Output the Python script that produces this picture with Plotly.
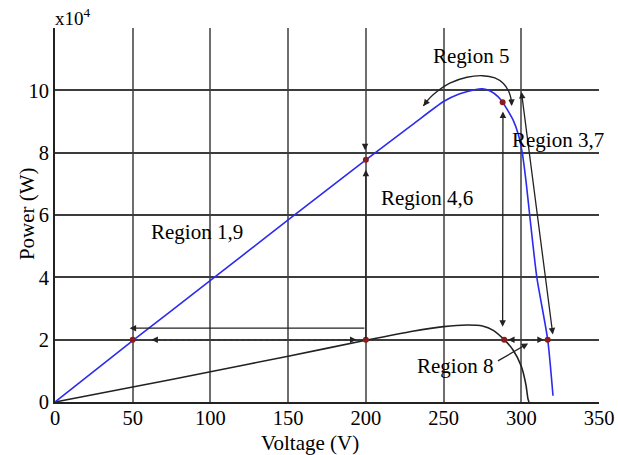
import plotly.graph_objects as go

# P-V curves (power in units of 1e4 W)
v_high = [0, 50, 100, 150, 200, 230, 250, 260, 270, 275, 280, 285, 288, 291, 294.7, 298, 300.6, 303, 305.4, 310, 317, 320.4]
p_high = [0, 1.97, 3.9, 5.84, 7.77, 8.9, 9.64, 9.88, 10.02, 10.05, 9.98, 9.8, 9.62, 9.38, 9.05, 8.6, 8.0, 7.1, 6.0, 4.0, 2.0, 0.2]

v_low = [0, 50, 100, 150, 200, 230, 250, 265, 275, 282, 289, 294.7, 300, 303, 304.3, 305]
p_low = [0, 0.48, 0.97, 1.47, 1.98, 2.27, 2.42, 2.47, 2.44, 2.3, 2.0, 1.67, 1.15, 0.55, 0.1, 0]

# operating points
op_v = [50, 200, 200, 288, 289, 317]
op_p = [2.0, 2.0, 7.77, 9.62, 2.0, 2.0]

# Region 5 transition arc
arc_v = [237, 241, 246, 254, 265, 275, 283, 288.5, 291.8, 293.3, 293.8]
arc_p = [9.5, 9.75, 9.97, 10.23, 10.42, 10.47, 10.4, 10.22, 9.98, 9.75, 9.55]

# dotted transitions at P = 2e4 W
dot1_v = [62, 194]
dot2_v = [291.5, 314.5]
dot_p = [2.0, 2.0]

# labels
region_text = ["Region 5", "Region 3,7", "Region 4,6", "Region 1,9", "Region 8"]
region_v = [267.5, 323.5, 239.5, 91.5, 257.5]
region_p = [11.1, 8.41, 6.55, 5.46, 1.16]

x_ticks = [0, 50, 100, 150, 200, 250, 300, 350]
y_ticks = [0, 2, 4, 6, 8, 10]

font_family = "Liberation Serif"
txt_font = dict(family=font_family, size=21, color="black")
tick_font = dict(family=font_family, size=20.5, color="black")

fig = go.Figure()

fig.add_trace(go.Scatter(x=v_low, y=p_low, mode="lines",
                         line=dict(color="#222222", width=1.6, shape="spline", smoothing=0.6),
                         hoverinfo="skip"))
fig.add_trace(go.Scatter(x=v_high, y=p_high, mode="lines",
                         line=dict(color="#2b2bf0", width=1.6, shape="spline", smoothing=0.6),
                         hoverinfo="skip"))
fig.add_trace(go.Scatter(x=arc_v, y=arc_p, mode="lines",
                         line=dict(color="#222222", width=1.4, shape="spline"),
                         hoverinfo="skip"))
for dv in (dot1_v, dot2_v):
    fig.add_trace(go.Scatter(x=dv, y=dot_p, mode="lines",
                             line=dict(color="#333333", width=1.5, dash="dot"),
                             hoverinfo="skip"))
fig.add_trace(go.Scatter(x=op_v, y=op_p, mode="markers",
                         marker=dict(color="#8b1c1c", size=6),
                         hoverinfo="skip"))

# arrows: (tail_v, tail_p, head_v, head_p, both_ends)
arrows = [
    (200, 2.37, 48, 2.37, False),
    (200, 2.0, 200, 7.45, False),
    (199.5, 8.3, 199.5, 8.08, False),
    (288, 2.37, 288.2, 9.32, True),
    (320.4, 2.12, 300.1, 9.95, True),
    (284, 1.29, 304.4, 1.88, False),
    (240.5, 9.73, 237, 9.5, False),
    (293.7, 9.7, 293.8, 9.5, False),
    (dot1_v[0] + 3, 2.0, dot1_v[0], 2.0, False),
    (dot1_v[1] - 3, 2.0, dot1_v[1], 2.0, False),
    (dot2_v[0] + 3, 2.0, dot2_v[0], 2.0, False),
    (dot2_v[1] - 3, 2.0, dot2_v[1], 2.0, False),
]

annotations = []
for tv, tp, hv, hp, both in arrows:
    annotations.append(dict(
        x=hv, y=hp, ax=tv, ay=tp, xref="x", yref="y", axref="x", ayref="y",
        text="", showarrow=True, arrowhead=2, arrowsize=1, arrowwidth=1.3,
        arrowcolor="#222222", arrowside="end+start" if both else "end",
    ))

for t, v, p in zip(region_text, region_v, region_p):
    annotations.append(dict(x=v, y=p, xref="x", yref="y", text=t, showarrow=False,
                            font=txt_font))

# exponent and axis titles
annotations.append(dict(x=0, y=1.03, xref="paper", yref="paper", text="x10<sup>4</sup>",
                        showarrow=False, xanchor="left", yanchor="middle", xshift=-2,
                        font=dict(family=font_family, size=19, color="black")))
annotations.append(dict(x=0.468, y=-0.11, xref="paper", yref="paper", text="Voltage (V)",
                        showarrow=False, xanchor="center", yanchor="middle", font=txt_font))
annotations.append(dict(x=-0.0515, y=0.505, xref="paper", yref="paper", text="Power (W)",
                        showarrow=False, xanchor="center", yanchor="middle", textangle=-90,
                        font=txt_font))

fig.update_layout(
    width=618, height=455,
    margin=dict(l=55, r=19, t=28, b=53),
    paper_bgcolor="white", plot_bgcolor="white",
    showlegend=False,
    annotations=annotations,
    font=txt_font,
)

fig.update_xaxes(
    range=[0, 350], tickvals=x_ticks, ticktext=[str(t) for t in x_ticks],
    showgrid=True, gridcolor="#6e6e6e", gridwidth=1.8,
    showline=True, linecolor="#222222", linewidth=2, zeroline=False,
    ticks="", automargin=False, tickfont=tick_font, ticklabelstandoff=-4,
)
fig.update_yaxes(
    range=[0, 12], tickvals=y_ticks, ticktext=[str(t) for t in y_ticks],
    showgrid=True, gridcolor="#3c3c3c", gridwidth=1.6,
    showline=True, linecolor="#222222", linewidth=2, zeroline=False,
    ticks="", automargin=False, tickfont=tick_font,
)

fig.write_html("out.html")
